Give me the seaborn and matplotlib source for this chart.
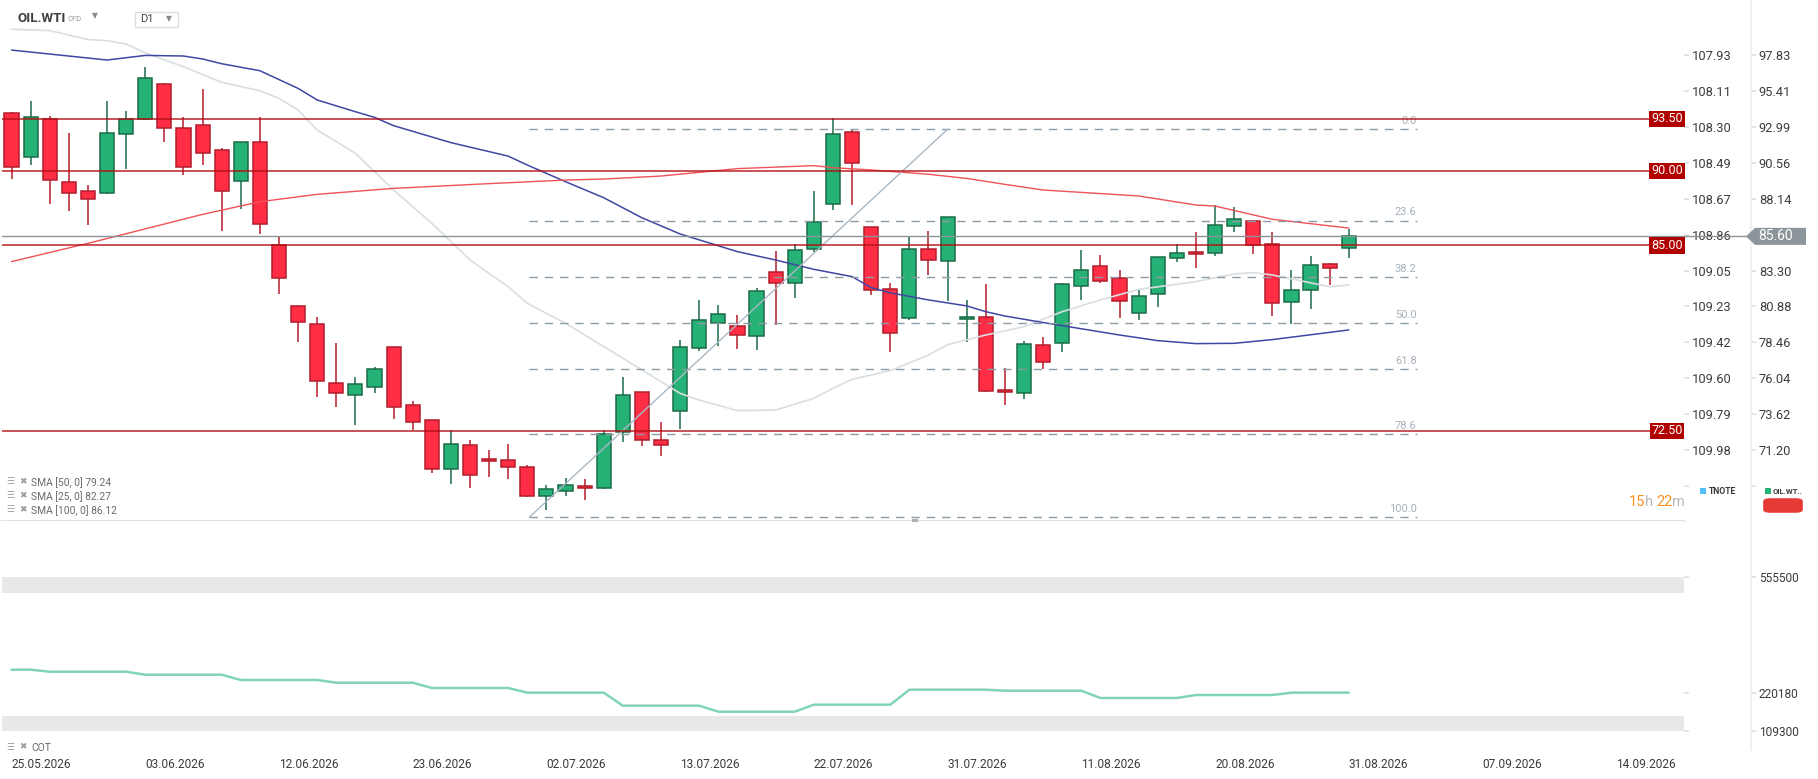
"""
OIL.WTI daily candles with SMA overlays, support levels, a Fibonacci retracement
and the COT panel underneath. Values read off the reference screenshot.
"""

import matplotlib
matplotlib.use('Agg')
import matplotlib.pyplot as plt
import matplotlib.transforms as mtransforms
from matplotlib.patches import Rectangle, FancyBboxPatch, Polygon
import pandas as pd
import seaborn as sns

# ---------------- data ----------------
opens = [93.88, 90.96, 93.52, 89.24, 88.63, 88.50, 92.47, 93.48, 95.83, 92.87,
         93.07, 91.39, 89.35, 91.98, 85.04, 80.89, 79.68, 75.71, 74.90, 75.44,
         78.13, 74.23, 73.22, 69.92, 71.53, 70.59, 70.52, 70.05, 68.10, 68.44,
         68.77, 68.64, 72.41, 75.10, 71.87, 73.82, 78.06, 79.75, 79.54, 78.87,
         83.18, 82.44, 84.73, 87.76, 92.60, 86.21, 82.03, 80.08, 84.73, 83.92,
         80.02, 80.15, 75.24, 75.03, 78.27, 78.40, 82.28, 83.58, 82.77, 80.42,
         81.70, 84.12, 84.52, 84.46, 86.27, 86.61, 85.06, 81.16, 81.97, 83.72,
         84.79]
highs = [93.95, 94.71, 93.70, 92.56, 89.06, 94.71, 94.04, 97.00, 95.94, 93.61,
         95.52, 91.55, 91.95, 93.61, 85.62, 80.95, 80.17, 78.40, 76.13, 76.81,
         78.15, 74.52, 73.25, 72.59, 71.87, 71.22, 71.62, 70.21, 68.84, 69.31,
         69.25, 72.57, 76.13, 75.15, 73.10, 78.60, 81.32, 80.98, 80.31, 82.12,
         84.61, 85.06, 88.65, 93.54, 92.76, 86.25, 82.44, 85.62, 85.96, 86.92,
         81.32, 82.39, 76.74, 78.56, 78.83, 82.44, 84.68, 84.32, 83.34, 82.03,
         84.22, 85.09, 85.89, 87.71, 87.58, 86.65, 85.89, 83.34, 84.26, 83.78,
         86.07]
lows = [89.46, 90.40, 87.80, 87.31, 86.36, 88.45, 90.13, 93.40, 91.95, 89.73,
        90.40, 85.96, 87.44, 85.78, 81.74, 78.51, 74.81, 74.14, 72.93, 75.03,
        73.33, 72.59, 69.69, 68.95, 68.64, 69.43, 69.29, 68.03, 67.16, 68.15,
        67.88, 68.60, 71.78, 71.51, 70.84, 72.66, 77.91, 78.24, 78.04, 77.97,
        79.66, 81.47, 84.53, 87.40, 87.73, 81.68, 77.84, 79.99, 83.02, 81.27,
        78.51, 75.10, 74.27, 74.67, 76.67, 77.84, 81.34, 82.48, 80.13, 79.99,
        80.87, 83.85, 83.49, 84.30, 85.87, 84.44, 80.26, 79.72, 80.73, 82.35,
        84.17]
closes = [90.25, 93.61, 89.42, 88.54, 88.09, 92.53, 93.48, 96.24, 92.92, 90.25,
          91.23, 88.68, 91.93, 86.41, 82.78, 79.81, 75.84, 75.03, 75.64, 76.65,
          74.09, 73.08, 69.92, 71.60, 69.52, 70.46, 70.05, 68.10, 68.57, 68.84,
          68.64, 72.32, 74.90, 71.87, 71.53, 78.13, 79.95, 80.35, 78.94, 81.90,
          82.44, 84.66, 86.54, 92.47, 90.52, 81.97, 79.07, 84.73, 83.99, 86.88,
          80.15, 75.17, 75.10, 78.33, 77.12, 82.37, 83.31, 82.57, 81.23, 81.56,
          84.19, 84.46, 84.39, 86.34, 86.75, 85.00, 81.09, 81.97, 83.65, 83.45,
          85.60]

sma50_idx = [0, 5, 7, 9, 10, 11, 13, 15, 16, 18, 19, 20, 23, 26, 27, 29, 31, 33,
             35, 38, 40, 42, 44, 45, 46, 48, 50, 51, 52, 54, 58, 60, 62, 64, 66, 70]
sma50_val = [98.14, 97.47, 97.78, 97.74, 97.54, 97.22, 96.75, 95.56, 94.78, 93.99,
             93.61, 93.05, 91.91, 91.00, 90.40, 89.28, 88.20, 86.85, 85.76, 84.57,
             84.01, 83.38, 82.89, 82.15, 81.80, 81.32, 80.92, 80.53, 80.24, 79.80,
             78.96, 78.58, 78.38, 78.40, 78.65, 79.30]

sma25_idx = [0, 2, 4, 5, 6, 7, 9, 11, 13, 14, 15, 16, 18, 20, 22, 24, 26, 27, 29,
             31, 33, 35, 36, 38, 40, 42, 43, 44, 46, 48, 49, 51, 53, 55, 57, 59,
             62, 64, 65, 66, 69, 70]
sma25_val = [99.54, 99.45, 98.85, 98.77, 98.55, 97.95, 97.02, 95.97, 95.40, 94.89,
             94.10, 92.76, 91.19, 88.72, 86.48, 84.01, 82.21, 81.09, 79.75, 78.18,
             76.61, 75.03, 74.58, 73.87, 73.91, 74.70, 75.37, 75.98, 76.56, 77.61,
             78.31, 78.96, 79.52, 80.53, 81.32, 82.03, 82.55, 83.07, 83.16, 83.00,
             82.21, 82.33]

sma100_idx = [0, 4, 10, 13, 16, 20, 25, 29, 31, 34, 38, 42, 43, 45, 48, 50, 52,
              54, 59, 62, 63, 66, 70]
sma100_val = [83.90, 85.13, 87.08, 87.93, 88.43, 88.83, 89.15, 89.39, 89.46, 89.66,
              90.16, 90.36, 90.22, 90.07, 89.78, 89.50, 89.10, 88.72, 88.32, 87.71,
              87.64, 86.75, 86.16]

cot_idx = [0, 1, 2, 6, 7, 11, 12, 16, 17, 21, 22, 26, 27, 31, 32, 36, 37, 41, 42,
           46, 47, 51, 52, 56, 57, 61, 62, 66, 67, 70]
cot_val = [286670, 286670, 280870, 280870, 272170, 272170, 256800, 256800, 248970,
           248970, 233600, 233600, 220070, 220070, 182270, 182270, 164870, 164870,
           185170, 185170, 228670, 228670, 225770, 225770, 204600, 204600, 213300,
           213300, 220070, 220180]

date_tick_idx = [0, 7, 14, 21, 28, 35, 42, 49, 56, 63, 70, 77, 84]
date_labels = ['25.05.2026', '03.06.2026', '12.06.2026', '23.06.2026', '02.07.2026',
               '13.07.2026', '22.07.2026', '31.07.2026', '11.08.2026', '20.08.2026',
               '31.08.2026', '07.09.2026', '14.09.2026']

support_levels = [93.50, 90.00, 85.00, 72.50]
last_price = 85.60

fib_low, fib_high = 66.69, 92.81
fib_start_idx, fib_end_idx, fib_right_idx = 27.1, 49.0, 73.55
fib_ratios = [0.0, 23.6, 38.2, 50.0, 61.8, 78.6, 100.0]

price_ticks = [97.83, 95.41, 92.99, 90.56, 88.14, 85.72, 83.30, 80.88, 78.46,
               76.04, 73.62, 71.20, 68.78]
price_labels = ['97.83', '95.41', '92.99', '90.56', '88.14', '', '83.30', '80.88',
                '78.46', '76.04', '73.62', '71.20', '']
tnote_labels = ['107.93', '108.11', '108.30', '108.49', '108.67', '108.86', '109.05',
                '109.23', '109.42', '109.60', '109.79', '109.98', '']

cot_ticks = [555500, 220180, 109300]
cot_bands = [(509100, 555500), (109300, 152400)]

sma_legend = [('SMA [50, 0]', 79.24), ('SMA [25, 0]', 82.27), ('SMA [100, 0]', 86.12)]

# ---------------- style ----------------
GREEN, GREEN_EDGE = '#26b276', '#1b6b48'
RED, RED_EDGE = '#ff2e45', '#b41c2c'
LEVEL_RED = '#b30f14'
AXIS_TXT = '#3c3c3c'
TICK_CLR = '#e2e2e2'

sns.set_theme(style='white')
plt.rcParams['font.family'] = ['Roboto', 'DejaVu Sans']

W, H = 1818, 779
fig = plt.figure(figsize=(W / 100, H / 100), dpi=100)
fig.patch.set_facecolor('white')

AX_L, AX_R = 2, 1684
MAIN_T, MAIN_B = 0, 521
COT_T, COT_B = 521, 750
SEP_X = 1751


def fx(px):
    return px / W


def fy(py):
    return 1 - py / H


ax = fig.add_axes([fx(AX_L), fy(MAIN_B), fx(AX_R) - fx(AX_L), fy(MAIN_T) - fy(MAIN_B)])
ax_cot = fig.add_axes([fx(AX_L), fy(COT_B), fx(AX_R) - fx(AX_L), fy(COT_T) - fy(COT_B)])


def mx(px):
    return (px - AX_L) / (AX_R - AX_L)


def my(py):
    return (MAIN_B - py) / (MAIN_B - MAIN_T)


def cy(py):
    return (COT_B - py) / (COT_B - COT_T)


x_lim = (-0.5, 87.55)
y_lim = (66.44, 101.51)
sep_loc = mx(SEP_X)

# ---------------- candles ----------------
df = pd.DataFrame({'o': opens, 'h': highs, 'l': lows, 'c': closes})
df['idx'] = range(len(df))
df['up'] = df['c'] >= df['o']
df['body_lo'] = df[['o', 'c']].min(axis=1)
df['body_h'] = (df['c'] - df['o']).abs().clip(lower=0.09)
fill = df['up'].map({True: GREEN, False: RED})
edge = df['up'].map({True: GREEN_EDGE, False: RED_EDGE})

ax.vlines(df['idx'], df['l'], df['h'], colors=edge, linewidth=1.1, zorder=2)
ax.bar(df['idx'], df['body_h'], bottom=df['body_lo'], width=0.74, color=fill,
       edgecolor=edge, linewidth=1.1, zorder=3)

# moving averages
sns.lineplot(x=sma25_idx, y=sma25_val, ax=ax, color='#d9dee1', linewidth=1.2,
             estimator=None, zorder=4)
sns.lineplot(x=sma50_idx, y=sma50_val, ax=ax, color='#3f47a3', linewidth=1.1,
             estimator=None, zorder=4)
sns.lineplot(x=sma100_idx, y=sma100_val, ax=ax, color='#ef5257', linewidth=1.0,
             estimator=None, zorder=4)

# fibonacci retracement
fib_range = fib_high - fib_low
for r in fib_ratios:
    lvl = fib_high - r / 100 * fib_range
    ax.hlines(lvl, fib_start_idx, fib_right_idx, colors='#8e9ca6', linewidth=1.0,
              linestyles=(0, (6, 5)), zorder=5)
    ax.annotate(f'{r:.1f}', (fib_right_idx, lvl), xytext=(0, 2.5),
                textcoords='offset points', ha='right', va='bottom',
                fontsize=8, color='#a6b1bb', zorder=6)
ax.plot([fib_start_idx, fib_end_idx], [fib_low, fib_high], color='#a9b8c6',
        linewidth=1.0, zorder=5)

# horizontal levels + tags
tag_tr = mtransforms.blended_transform_factory(ax.transAxes, ax.transData)
for lvl in support_levels:
    ax.axhline(lvl, xmin=0, xmax=mx(1650), color=LEVEL_RED, linewidth=1.2,
               alpha=0.85, zorder=6)
    ax.text(mx(1667), lvl, f'{lvl:.2f}', transform=tag_tr, ha='center', va='center',
            fontsize=9, color='white', zorder=8,
            bbox=dict(boxstyle='square,pad=0.14', fc='#b00000', ec='none'))

ax.axhline(last_price, xmin=0, xmax=mx(1748), color='#8a9498', linewidth=1.0,
           clip_on=False, zorder=6)

# axes limits, ticks, spines
ax.set_xlim(*x_lim)
ax.set_ylim(*y_lim)
ax.set_xlabel('')
ax.set_ylabel('')
for s in ['top', 'left', 'right']:
    ax.spines[s].set_visible(False)
ax.spines['bottom'].set_color('#dcdcdc')
ax.set_xticks(date_tick_idx)
ax.set_xticklabels([])
ax.tick_params(axis='x', direction='in', length=3, color='#dcdcdc')
ax.yaxis.tick_right()
ax.set_yticks(price_ticks)
ax.set_yticklabels(tnote_labels)
ax.tick_params(axis='y', length=3.6, color=TICK_CLR, pad=2, labelsize=9.3,
               labelcolor=AXIS_TXT)

sec = ax.secondary_yaxis(sep_loc)
sec.set_yticks(price_ticks)
sec.set_yticklabels(price_labels)
sec.tick_params(axis='y', length=3.6, color=TICK_CLR, pad=2, labelsize=9.3,
                labelcolor=AXIS_TXT)
for s in sec.spines.values():
    s.set_color('#efefef')

# last-price arrow tag, shaped in pixel space around the price level
tip_y = ax.transData.transform((0, last_price))[1]
tag_px = [(1746, 0), (1755, 8.5), (1806, 8.5), (1806, -8.5), (1755, -8.5)]
tag_pts = [(px, tip_y + dy) for px, dy in tag_px]
fig.patches.append(Polygon(tag_pts, closed=True, transform=None, fc='#8c9599',
                           ec='none', zorder=9))
fig.text(fx(1758), tip_y / H, f'{last_price:.2f}', ha='left', va='center',
         fontsize=10, color='white', zorder=10)

# header
ax.text(mx(17), my(18), 'OIL.WTI', transform=ax.transAxes, ha='left', va='center',
        fontsize=9.6, fontweight='bold', color='#3d4043')
ax.text(mx(68), my(19), 'CFD', transform=ax.transAxes, ha='left', va='center',
        fontsize=5.5, color='#9a9a9a')
ax.text(mx(92), my(16), '\u25bc', transform=ax.transAxes, ha='left', va='center',
        fontsize=5.5, color='#8a8a8a', family=['DejaVu Sans'])
ax.add_patch(Rectangle((mx(135), my(27)), mx(178) - mx(135), my(12) - my(27),
                       transform=ax.transAxes, fc='white', ec='#dddddd', lw=1,
                       zorder=7))
ax.text(mx(140), my(19.5), 'D1', transform=ax.transAxes, ha='left', va='center',
        fontsize=8, color='#444444', zorder=8)
ax.text(mx(166), my(18.5), '\u25bc', transform=ax.transAxes, ha='left', va='center',
        fontsize=5.5, color='#8a8a8a', family=['DejaVu Sans'], zorder=8)

# SMA legend
for k, (name, val) in enumerate(sma_legend):
    ypx = 482 + 14 * k
    ax.text(mx(6), my(ypx), '\u2630', transform=ax.transAxes, ha='left', va='center',
            fontsize=6.5, color='#9c9c9c', family=['DejaVu Sans'], zorder=8)
    ax.text(mx(19), my(ypx), '\u2716', transform=ax.transAxes, ha='left', va='center',
            fontsize=6.5, color='#9c9c9c', family=['DejaVu Sans'], zorder=8)
    ax.text(mx(31), my(ypx + 1), f'{name} {val:.2f}', transform=ax.transAxes,
            ha='left', va='center', fontsize=7.4, color='#6a6a6a', zorder=8)

# countdown
for txt, xpx, clr in [('15', 1629, '#f7941d'), ('h', 1645.5, '#b8b8b8'),
                      ('22', 1656, '#f7941d'), ('m', 1672, '#b8b8b8')]:
    ax.text(mx(xpx), my(502), txt, transform=ax.transAxes, ha='left', va='center',
            fontsize=10.5, color=clr, zorder=8)

# ---------------- COT panel ----------------
for lo, hi in cot_bands:
    ax_cot.axhspan(lo, hi, color='#e8e8e8', lw=0, zorder=0)
sns.lineplot(x=cot_idx, y=cot_val, ax=ax_cot, color='#82d5b4', linewidth=1.8,
             estimator=None, zorder=3)
ax_cot.set_xlim(*x_lim)
ax_cot.set_ylim(53800, 717900)
ax_cot.set_xlabel('')
ax_cot.set_ylabel('')
for s in ax_cot.spines.values():
    s.set_visible(False)
ax_cot.set_xticks(date_tick_idx)
ax_cot.set_xticklabels(date_labels, ha='left')
ax_cot.tick_params(axis='x', direction='out', length=4, color='#dcdcdc', pad=1.5,
                   labelsize=8.6, labelcolor=AXIS_TXT)
ax_cot.yaxis.tick_right()
ax_cot.set_yticks(cot_ticks)
ax_cot.set_yticklabels([])
ax_cot.tick_params(axis='y', length=3.6, color=TICK_CLR)
sec_cot = ax_cot.secondary_yaxis(sep_loc)
sec_cot.set_yticks(cot_ticks)
sec_cot.set_yticklabels([str(v) for v in cot_ticks])
sec_cot.tick_params(axis='y', length=3.6, color=TICK_CLR, pad=2, labelsize=8.6,
                    labelcolor=AXIS_TXT)
for s in sec_cot.spines.values():
    s.set_color('#efefef')

ax_cot.text(mx(6), cy(747), '\u2630', transform=ax_cot.transAxes, ha='left',
            va='center', fontsize=6.5, color='#9c9c9c', family=['DejaVu Sans'])
ax_cot.text(mx(19), cy(747), '\u2716', transform=ax_cot.transAxes, ha='left',
            va='center', fontsize=6.5, color='#9c9c9c', family=['DejaVu Sans'])
ax_cot.text(mx(31), cy(748), 'COT', transform=ax_cot.transAxes, ha='left',
            va='center', fontsize=7.4, color='#6a6a6a')

# ---------------- right-hand legend ----------------
fig.patches.append(Rectangle((fx(1700), fy(494)), 6 / W, 6 / H, transform=fig.transFigure,
                             fc='#4fc3f7', ec='none'))
fig.text(fx(1709), fy(491), 'TNOTE', ha='left', va='center', fontsize=6.2,
         fontweight='bold', color='#3a3a3a')
fig.patches.append(Rectangle((fx(1765), fy(494)), 6 / W, 6 / H, transform=fig.transFigure,
                             fc='#26b276', ec='none'))
fig.text(fx(1773), fy(491), 'OIL.WT..', ha='left', va='center', fontsize=5.6,
         fontweight='bold', color='#3a3a3a')
fig.patches.append(FancyBboxPatch((fx(1765), fy(512)), 36 / W, 13 / H,
                                  boxstyle='round,pad=0.001,rounding_size=0.004',
                                  transform=fig.transFigure, fc='#e53935', ec='none'))
fig.patches.append(Rectangle((fx(912), fy(522)), 6 / W, 3 / H, transform=fig.transFigure,
                             fc='#b0b0b0', ec='none'))

fig.savefig('out.png', dpi=100, facecolor='white')
plt.close(fig)
